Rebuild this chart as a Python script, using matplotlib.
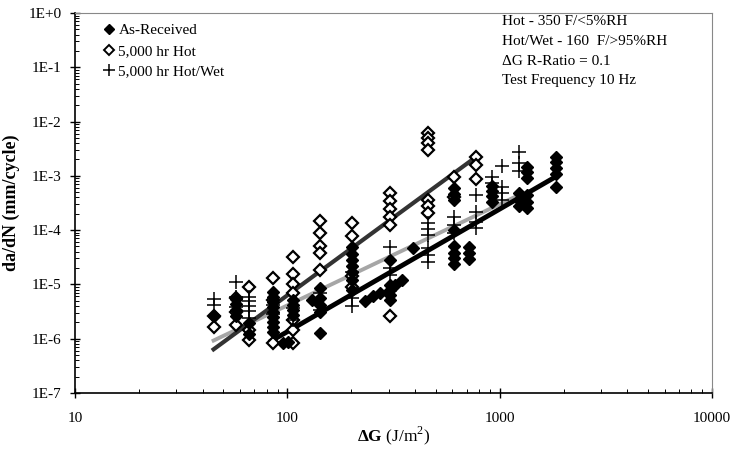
"""Crack growth rate da/dN vs strain energy release rate range (log-log)."""

import numpy as np
import matplotlib
matplotlib.use('Agg')
import matplotlib.pyplot as plt
from matplotlib.lines import Line2D

plt.rcParams['font.family'] = ['Liberation Serif', 'DejaVu Serif']
plt.rcParams['mathtext.fontset'] = 'custom'
plt.rcParams['mathtext.rm'] = 'Liberation Serif'
plt.rcParams['mathtext.bf'] = 'Liberation Serif:bold'

# (delta G [J/m^2], [da/dN values, mm/cycle])
as_received = [
  (45, [2.62e-6]),
  (57.5, [5.4e-6, 4.36e-6, 3.38e-6, 2.62e-6]),
  (66, [1.95e-6, 1.22e-6]),
  (86, [7.3e-6, 5.9e-6, 4.75e-6, 3.85e-6, 3.11e-6, 2.51e-6, 2.03e-6, 1.64e-6, 1.33e-6]),
  (95.5, [8.35e-7]),
  (101, [8.7e-7]),
  (107, [5.2e-6, 4.18e-6, 3.38e-6, 2.74e-6]),
  (131, [5.2e-6]),
  (143, [8.6e-6, 5.6e-6, 4.18e-6, 3.11e-6, 1.28e-6]),
  (202, [4.9e-5, 3.6e-5, 2.82e-5, 2.19e-5, 1.7e-5, 1.21e-5, 7.9e-6]),
  (232, [4.9e-6]),
  (253, [6.0e-6]),
  (273, [7.0e-6]),
  (305, [2.82e-5, 9.8e-6, 7.9e-6, 6.4e-6, 5.2e-6]),
  (321, [9.8e-6]),
  (347, [1.2e-5]),
  (391, [4.7e-5]),
  (610, [5.98e-4, 4.63e-4, 3.6e-4, 1.0e-4, 5.1e-5, 3.8e-5, 3.0e-5, 2.38e-5]),
  (718, [4.9e-5, 3.8e-5, 2.94e-5]),
  (920, [6.5e-4, 5.26e-4, 4.26e-4, 3.3e-4]),
  (1235, [4.83e-4, 3.6e-4, 2.79e-4]),
  (1345, [1.46e-3, 1.18e-3, 9.1e-4, 4.44e-4, 3.3e-4, 2.56e-4]),
  (1845, [2.23e-3, 1.8e-3, 1.4e-3, 1.08e-3, 6.2e-4]),
]

hot = [
  (45, [2.62e-6, 1.64e-6]),
  (57.5, [5.6e-6, 3.11e-6, 1.79e-6]),
  (66, [9.0e-6, 1.45e-6, 9.5e-7]),
  (86, [1.32e-5, 5.2e-6, 8.35e-7]),
  (107, [3.2e-5, 1.56e-5, 1.02e-5, 7.0e-6, 2.21e-6, 1.45e-6, 8.35e-7]),
  (143, [1.47e-4, 8.9e-5, 5.1e-5, 3.8e-5, 1.85e-5]),
  (202, [1.35e-4, 7.8e-5, 1.43e-5, 9.0e-6]),
  (305, [4.83e-4, 3.44e-4, 2.45e-4, 1.75e-4, 1.24e-4, 2.62e-6]),
  (460, [6.16e-3, 4.99e-3, 4.03e-3, 3.0e-3, 3.6e-4, 2.79e-4, 2.07e-4]),
  (610, [9.5e-4, 4.08e-4]),
  (775, [2.23e-3, 1.58e-3, 8.75e-4]),
]

hot_wet = [
  (45, [5.4e-6, 4.18e-6]),
  (57.5, [1.11e-5, 5.9e-6, 3.85e-6]),
  (66, [5.9e-6, 4.95e-6, 4.0e-6, 3.24e-6, 2.41e-6]),
  (86, [4.18e-6, 2.86e-6]),
  (107, [3.68e-6, 2.21e-6]),
  (143, [7.0e-6, 3.38e-6]),
  (202, [1.7e-5, 5.6e-6, 4.0e-6]),
  (305, [4.9e-5, 2.01e-5, 1.49e-5]),
  (460, [1.35e-4, 1.05e-4, 8.1e-5, 4.7e-5, 3.5e-5, 2.59e-5]),
  (610, [1.75e-4, 1.24e-4, 8.9e-5]),
  (775, [4.44e-4, 2.16e-4, 1.41e-4, 1.1e-4]),
  (920, [9.5e-4, 7.4e-4]),
  (1025, [1.52e-3, 6.2e-4, 4.8e-4, 3.6e-4]),
  (1235, [2.75e-3, 1.73e-3, 1.23e-3]),
]

# power-law trend lines da/dN = 10**log_c * dG**m, drawn over dG range
fit_as_received = dict(log_c=-10.394, m=2.26, dg_min=84, dg_max=1845)
fit_hot = dict(log_c=-10.941, m=2.869, dg_min=45, dg_max=775)
fit_hot_wet = dict(log_c=-9.119, m=1.865, dg_min=45, dg_max=1235)

y_ticks = [1e-7, 1e-6, 1e-5, 1e-4, 1e-3, 1e-2, 1e-1, 1e0]
y_labels = ['1E-7', '1E-6', '1E-5', '1E-4', '1E-3', '1E-2', '1E-1', '1E+0']
x_ticks = [10, 100, 1000, 10000]
x_labels = ['10', '100', '1000', '10000']

notes = ['Hot - 350 F/<5%RH', 'Hot/Wet - 160  F/>95%RH',
         '\u0394G R-Ratio = 0.1', 'Test Frequency 10 Hz']


def flatten(groups):
  xs, ys = [], []
  for dg, vals in groups:
    xs += [dg] * len(vals)
    ys += vals
  return xs, ys


def trend(fit):
  x = np.logspace(np.log10(fit['dg_min']), np.log10(fit['dg_max']), 50)
  return x, 10 ** fit['log_c'] * x ** fit['m']


fig = plt.figure(figsize=(7.34, 4.5), dpi=100)
ax = fig.add_axes([0.102, 0.127, 0.868, 0.844])
ax.set_xscale('log')
ax.set_yscale('log')
ax.set_xlim(10, 10000)
ax.set_ylim(1e-7, 1)

# trend lines under the markers
x, y = trend(fit_hot_wet)
ax.plot(x, y, color='#a6a6a6', lw=2.8, zorder=2)
x, y = trend(fit_hot)
ax.plot(x, y, color='#333333', lw=3.0, zorder=2)
x, y = trend(fit_as_received)
ax.plot(x, y, color='black', lw=3.5, zorder=2)

x, y = flatten(hot)
ax.plot(x, y, ls='none', marker='D', ms=6, mfc='white', mec='black',
        mew=1.6, zorder=3)
x, y = flatten(as_received)
ax.plot(x, y, ls='none', marker='D', ms=6.5, color='black', zorder=4)
x, y = flatten(hot_wet)
ax.plot(x, y, ls='none', marker='+', ms=10, mew=1.1, color='black', zorder=5)

ax.set_xticks(x_ticks)
ax.set_xticklabels(x_labels)
ax.set_yticks(y_ticks)
ax.set_yticklabels(y_labels)
ax.tick_params(which='major', direction='inout', length=7, width=1,
               labelsize=11, pad=6)
ax.tick_params(which='minor', direction='in', length=3, width=0.7)
ax.tick_params(axis='x', which='major', pad=10)
ax.yaxis.set_minor_locator(matplotlib.ticker.LogLocator(subs=np.arange(2, 10), numticks=20))
ax.yaxis.set_minor_formatter(matplotlib.ticker.NullFormatter())

for side in ['top', 'right']:
  ax.spines[side].set_color('#888888')
  ax.spines[side].set_linewidth(0.8)
for side in ['left', 'bottom']:
  ax.spines[side].set_linewidth(1.2)

ax.set_ylabel('da/dN (mm/cycle)', fontsize=13, fontweight='bold', labelpad=6)
ax.set_xlabel(r'$\mathbf{\Delta G}$ (J/m$^{2}$)', fontsize=12.5, labelpad=0)

handles = [
  Line2D([], [], ls='none', marker='D', ms=5.5, color='black'),
  Line2D([], [], ls='none', marker='D', ms=5.5, mfc='white', mec='black', mew=1.4),
  Line2D([], [], ls='none', marker='+', ms=8, mew=1.1, color='black'),
]
ax.legend(handles, ['As-Received', '5,000 hr Hot', '5,000 hr Hot/Wet'],
          loc='upper left', frameon=False, fontsize=11, handlelength=0.6,
          handletextpad=0.3, labelspacing=0.45, borderaxespad=0.3,
          bbox_to_anchor=(0.03, 1.0))

ax.text(0.670, 0.995, '\n'.join(notes), transform=ax.transAxes, fontsize=11,
        va='top', ha='left', linespacing=1.68)

fig.savefig('out.png', dpi=100)
